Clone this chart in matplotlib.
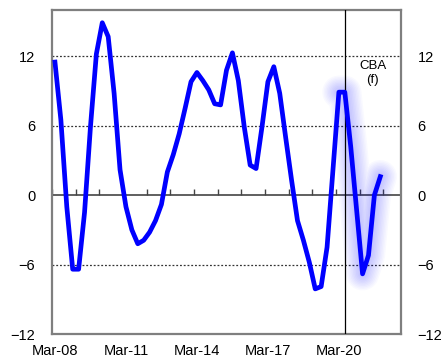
import numpy as np
import matplotlib.pyplot as plt

plt.rcParams['font.family'] = ['Liberation Sans', 'DejaVu Sans']

# quarterly values, Mar-08 .. Dec-21
values = [11.5, 6.5, -1.0, -6.4, -6.4, -1.5, 5.9, 12.2, 14.9, 13.7,
          8.8, 2.2, -1.0, -3.0, -4.2, -3.9, -3.2, -2.2, -0.8, 2.0,
          3.5, 5.3, 7.5, 9.8, 10.6, 9.9, 9.1, 7.9, 7.8, 10.8,
          12.3, 9.9, 5.9, 2.6, 2.3, 5.9, 9.8, 11.1, 8.8, 5.0,
          1.3, -2.2, -3.9, -5.8, -8.1, -7.9, -4.5, 2.2, 8.9, 8.9,
          4.2, -1.3, -6.8, -5.2, 0.0, 1.6]
n_quarters = 59          # Mar-08 .. Sep-22 on the axis
forecast_from = 48       # start of the shaded (forecast) part
split_at = 49            # Jun-20
label_every = 12
start_year = 8
yticks = [-12, -6, 0, 6, 12]
ylim = (-12, 16)

x = np.arange(len(values))
y = np.array(values)

fig = plt.figure(figsize=(4.46, 3.58), dpi=100)
ax = fig.add_axes([0.1166, 0.067, 0.7825, 0.905])

# soft glow behind the forecast
for w in np.linspace(5, 24, 10):
    ax.plot(x[forecast_from:], y[forecast_from:], color='#0000ff', lw=w,
            alpha=0.025, solid_capstyle='round', solid_joinstyle='round', zorder=2)

ax.plot(x, y, color='#0000ff', lw=3.4, solid_joinstyle='round', zorder=4)

ax.axvline(split_at, color='black', lw=0.9, zorder=3)
for v in yticks:
    if v not in (0, ylim[0]):
        ax.axhline(v, color='#333333', lw=0.9, ls=(0, (1.5, 1.5)), zorder=1)

ax.set_xlim(-0.5, n_quarters - 0.5)
ax.set_ylim(*ylim)

lab_pos = np.arange(0, len(values), label_every)
lab_txt = ['Mar-%02d' % (start_year + 3 * k) for k in range(len(lab_pos))]
ax.set_xticks(lab_pos, lab_txt)
ax.tick_params(axis='x', length=0, pad=7, labelsize=10.5)

ax.set_yticks(yticks)
ax.tick_params(axis='y', length=0, pad=12, labelsize=10.5,
               labelleft=True, labelright=True, left=False, right=False)

# zero line with small year ticks
zero = ax.secondary_xaxis((0 - ylim[0]) / (ylim[1] - ylim[0]))
zero.set_xticks(np.arange(-0.5, len(values), 4))
zero.tick_params(axis='x', direction='in', length=4, width=1, color='#444444',
                 labelbottom=False)
zero.spines['bottom'].set_color('#444444')
zero.spines['bottom'].set_linewidth(1.2)

for s in ax.spines.values():
    s.set_color('#7f7f7f')
    s.set_linewidth(1.6)

ax.text(53.7, 11.7, 'CBA\n(f)', ha='center', va='top', fontsize=9.5, linespacing=1.2)

fig.savefig('out.png', dpi=100)
